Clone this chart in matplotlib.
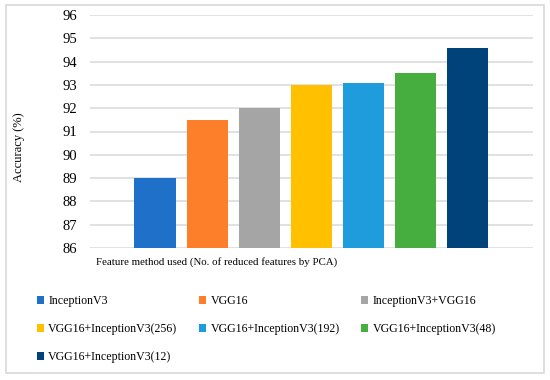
import numpy as np
import matplotlib.pyplot as plt
from matplotlib.patches import Rectangle, Patch

methods = ['InceptionV3', 'VGG16', 'InceptionV3+VGG16', 'VGG16+InceptionV3(256)',
           'VGG16+InceptionV3(192)', 'VGG16+InceptionV3(48)', 'VGG16+InceptionV3(12)']
accuracy = [89.0, 91.5, 92.0, 93.0, 93.1, 93.5, 94.6]
colors = ['#1f70c8', '#fd7f2a', '#a5a5a5', '#ffc000', '#1f9cdb', '#46ae3f', '#00427a']
yticks = [86, 87, 88, 89, 90, 91, 92, 93, 94, 95, 96]

plt.rcParams['font.family'] = ['Liberation Serif', 'DejaVu Serif']

fig = plt.figure(figsize=(5.5, 3.8), dpi=100)
fig.patches.append(Rectangle((6 / 550, 7 / 380), 538 / 550, 368 / 380, transform=fig.transFigure,
                             fill=False, edgecolor='#d9d9d9', linewidth=1.2))

ax = fig.add_axes([90 / 550, 1 - 248 / 380, 443 / 550, 233 / 380])
x = np.arange(len(methods))
ax.bar(x, [a - 86 for a in accuracy], bottom=86, width=0.79, color=colors, zorder=3)

ax.set_ylim(86, 96)
ax.set_xlim(-1.246, 7.25)
ax.set_yticks(yticks)
ax.set_xticks([])
ax.tick_params(axis='y', length=0, labelsize=10.5, pad=9.5)
ax.yaxis.grid(True, color='#d9d9d9', linewidth=1.1, zorder=0)
for s in ax.spines.values():
    s.set_visible(False)

fig.text(19 / 550, 1 - 147 / 380, 'Accuracy (%)', rotation=90, fontsize=9,
         ha='center', va='center')
fig.text(96 / 550, 1 - 262 / 380, 'Feature method used (No. of reduced features by PCA)',
         fontsize=7.8, va='center', ha='left')

# legend fills column-wise, reorder so it reads row-wise like the original
order = [0, 3, 6, 1, 4, 2, 5]
handles = [Patch(facecolor=colors[i], edgecolor='none') for i in order]
labels = [methods[i] for i in order]
fig.legend(handles, labels, ncol=3, loc='upper left', bbox_to_anchor=(37 / 550, 1 - 295 / 380),
           frameon=False, fontsize=8.6, handlelength=0.6, handleheight=0.6, handletextpad=0.35,
           columnspacing=1.8, labelspacing=1.35, borderpad=0, borderaxespad=0)

fig.savefig('out.png', dpi=100)
